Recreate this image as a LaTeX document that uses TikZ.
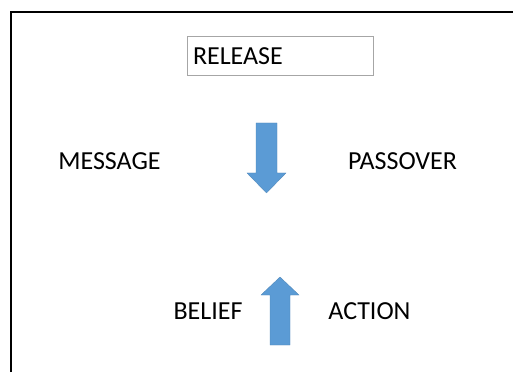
\documentclass[tikz,border=0pt]{standalone}
\usepackage{fontspec}
\setmainfont{Carlito}
\usetikzlibrary{positioning}

\definecolor{arrowblue}{HTML}{5B9BD5}

\begin{document}
\begin{tikzpicture}[x = 1pt, y = 1pt, font=\fontsize{26}{30}\selectfont]
	\tikzstyle{wordStyle} = [inner sep = 0pt, anchor = center]
	\tikzstyle{boxStyle} = [draw = gray!70, line width = 1pt, minimum width = 186pt, minimum height = 39pt, text width = 174pt, inner xsep = 6pt, inner ysep = 0pt, align = left]
	\tikzstyle{blockArrow} = [fill = arrowblue, draw = arrowblue!85!black, line width = 0.3pt]
	\useasboundingbox (0,0) rectangle (513,372);
	% frame
	\draw[line width = 2pt] (11,0) -- (11,360) -- (513,360);
	% words
	\node[boxStyle] (release) at (280,315.5) {RELEASE};
	\node[wordStyle] (message) at (109.5,211) {MESSAGE};
	\node[wordStyle] (passover) at (402.5,211) {PASSOVER};
	\node[wordStyle] (belief) at (208,61) {BELIEF};
	\node[wordStyle] (action) at (369.5,61) {ACTION};
	% arrows
	\filldraw[blockArrow] (256,249) -- (277,249) -- (277,199) -- (286,199) -- (266.5,179) -- (247,199) -- (256,199) -- cycle;
	\filldraw[blockArrow] (270,27) -- (290,27) -- (290,77) -- (299,77) -- (280,95) -- (261,77) -- (270,77) -- cycle;
\end{tikzpicture}
\end{document}
